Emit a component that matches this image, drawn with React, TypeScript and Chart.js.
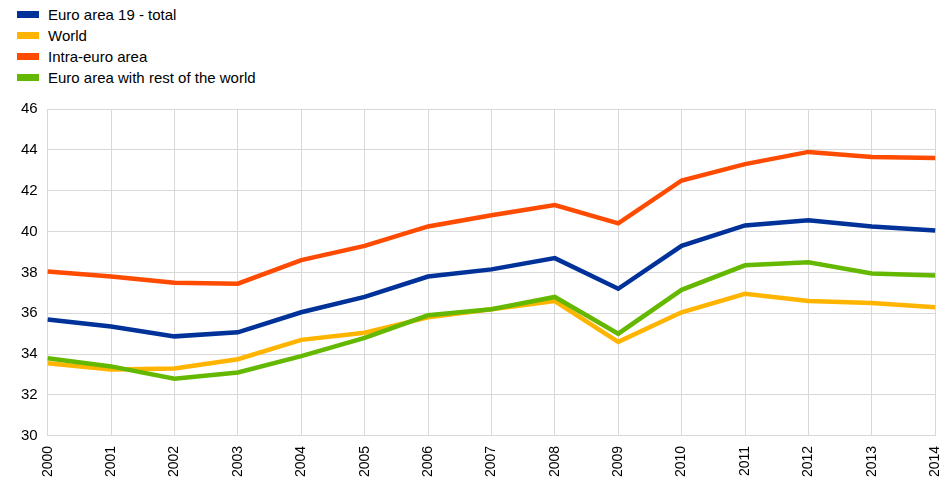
import React, { useEffect, useRef } from 'react';
import { Chart, registerables } from 'chart.js';

Chart.register(...registerables);

const years = ['2000', '2001', '2002', '2003', '2004', '2005', '2006', '2007', '2008', '2009', '2010', '2011', '2012', '2013', '2014'];
const euroTotal = [35.7, 35.35, 34.87, 35.07, 36.05, 36.8, 37.8, 38.15, 38.7, 37.2, 39.3, 40.3, 40.55, 40.25, 40.05];
const world = [33.55, 33.25, 33.3, 33.75, 34.7, 35.05, 35.8, 36.2, 36.6, 34.6, 36.05, 36.95, 36.6, 36.5, 36.3];
const intraEuro = [38.05, 37.8, 37.5, 37.45, 38.6, 39.3, 40.25, 40.8, 41.3, 40.4, 42.5, 43.3, 43.9, 43.65, 43.6];
const restOfWorld = [33.8, 33.4, 32.8, 33.1, 33.9, 34.8, 35.9, 36.2, 36.8, 35.0, 37.15, 38.35, 38.5, 37.95, 37.85];

const series = [
    { label: 'Euro area 19 - total', data: euroTotal, color: '#003299' },
    { label: 'World', data: world, color: '#FFB400' },
    { label: 'Intra-euro area', data: intraEuro, color: '#FF4B00' },
    { label: 'Euro area with rest of the world', data: restOfWorld, color: '#65B800' },
];

const font = "'Liberation Sans', Arial, sans-serif";

const App: React.FC = () => {
    const chartRef = useRef<HTMLCanvasElement>(null);
    const chartInstance = useRef<Chart | null>(null);

    useEffect(() => {
        if (!chartRef.current) return;
        const ctx = chartRef.current.getContext('2d');
        if (!ctx) return;
        if (chartInstance.current) chartInstance.current.destroy();

        // draw order: green first, blue/orange on top
        const order = [series[3], series[1], series[0], series[2]];
        chartInstance.current = new Chart(ctx, {
            type: 'line',
            data: {
                labels: years,
                datasets: order.map(s => ({
                    label: s.label,
                    data: s.data,
                    borderColor: s.color,
                    backgroundColor: s.color,
                    borderWidth: 4.5,
                    pointRadius: 0,
                    tension: 0,
                })),
            },
            options: {
                animation: false,
                responsive: true,
                maintainAspectRatio: false,
                layout: { padding: { left: 11, right: 0, top: 8, bottom: 0 } },
                plugins: { legend: { display: false }, tooltip: { enabled: false } },
                scales: {
                    x: {
                        offset: false,
                        grid: { color: '#d9d9d9', drawTicks: false },
                        border: { color: '#d9d9d9' },
                        ticks: { color: '#000', font: { family: font, size: 14 }, maxRotation: 90, minRotation: 90, padding: 10 },
                    },
                    y: {
                        min: 30,
                        max: 46,
                        grid: { color: '#d9d9d9', drawTicks: false },
                        border: { display: false },
                        ticks: { stepSize: 2, color: '#000', font: { family: font, size: 15 }, padding: 10 },
                    },
                },
            },
        });

        return () => {
            if (chartInstance.current) chartInstance.current.destroy();
        };
    }, []);

    return (
        <div style={{ position: 'fixed', left: 0, top: 0, width: 947, height: 484, background: '#fff', fontFamily: font, overflow: 'hidden' }}>
            <div style={{ position: 'absolute', left: 17, top: 4 }}>
                {series.map(s => (
                    <div key={s.label} style={{ display: 'flex', alignItems: 'center', height: 21, fontSize: 15 }}>
                        <span style={{ display: 'inline-block', width: 22, height: 7, background: s.color, marginRight: 9 }} />
                        {s.label}
                    </div>
                ))}
            </div>
            <div style={{ position: 'absolute', left: 0, top: 90, width: 962, height: 397 }}>
                <canvas ref={chartRef}></canvas>
            </div>
        </div>
    );
};

export default App;
